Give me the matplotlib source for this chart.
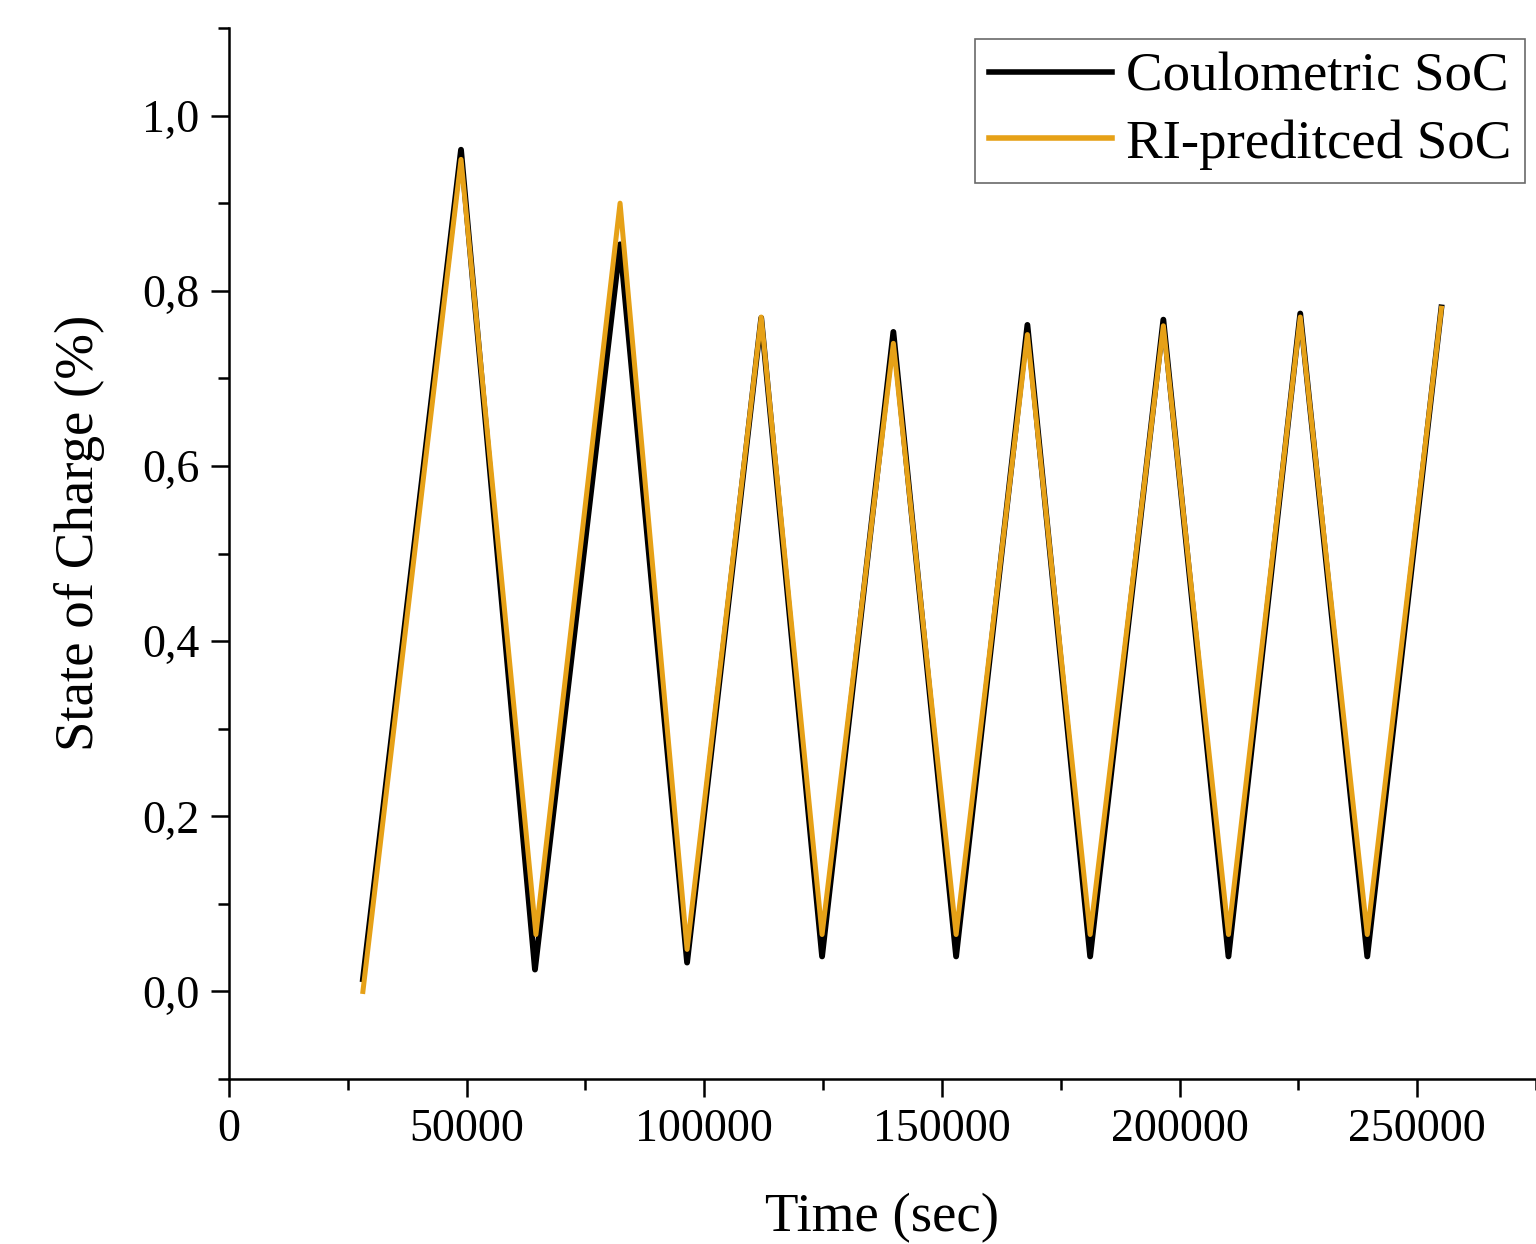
import matplotlib
matplotlib.use("Agg")
import matplotlib.pyplot as plt
from matplotlib.ticker import MultipleLocator, FuncFormatter

# turning points (time in sec, SoC fraction)
time_coul = [28200, 48840, 64400, 82300, 96400, 112000, 124800, 139800, 153000,
             168000, 181200, 196600, 210300, 225400, 239500, 255100]
soc_coul = [0.014, 0.961, 0.025, 0.853, 0.033, 0.769, 0.040, 0.753, 0.040,
            0.761, 0.040, 0.767, 0.040, 0.774, 0.040, 0.781]

time_ri = [28200, 48840, 64600, 82300, 96400, 112000, 124800, 139800, 153000,
           168000, 181200, 196600, 210300, 225400, 239500, 255100]
soc_ri = [0.000, 0.950, 0.065, 0.900, 0.048, 0.770, 0.065, 0.740, 0.065,
          0.750, 0.065, 0.760, 0.065, 0.770, 0.065, 0.780]

plt.rcParams['font.family'] = ['Liberation Serif', 'DejaVu Serif']

fig = plt.figure(figsize=(15.36, 12.44), dpi=100)
ax = fig.add_axes([0.149, 0.1326, 0.851, 0.8449])

ax.plot(time_coul, soc_coul, color='black', lw=4.2, label='Coulometric SoC')
ax.plot(time_ri, soc_ri, color='#E6A117', lw=3.6, label='RI-preditced SoC')

ax.set_xlim(0, 275000)
ax.set_ylim(-0.1, 1.1)
ax.xaxis.set_major_locator(MultipleLocator(50000))
ax.xaxis.set_minor_locator(MultipleLocator(25000))
ax.yaxis.set_major_locator(MultipleLocator(0.2))
ax.yaxis.set_minor_locator(MultipleLocator(0.1))
ax.yaxis.set_major_formatter(FuncFormatter(lambda v, p: f"{v:.1f}".replace('.', ',')))

for s in ['top', 'right']:
    ax.spines[s].set_visible(False)
for s in ['left', 'bottom']:
    ax.spines[s].set_linewidth(1.8)

ax.tick_params(which='major', direction='out', length=13, width=1.8, labelsize=33, pad=8)
ax.tick_params(which='minor', direction='out', length=8, width=1.8)

ax.set_xlabel('Time (sec)', fontsize=39.5, labelpad=30)
ax.set_ylabel('State of Charge (%)', fontsize=39.5)
ax.yaxis.set_label_coords(-0.095, 0.52)

leg = ax.legend(loc='upper right', bbox_to_anchor=(0.9915, 0.99), fontsize=39.5,
                frameon=True, fancybox=False, handlelength=2.25, handletextpad=0.25,
                borderpad=0.25, labelspacing=0.3, borderaxespad=0)
leg.get_frame().set_edgecolor('#444444')
leg.get_frame().set_linewidth(1.2)
for line in leg.get_lines():
    line.set_linewidth(4)

fig.savefig('out.png', dpi=100)
